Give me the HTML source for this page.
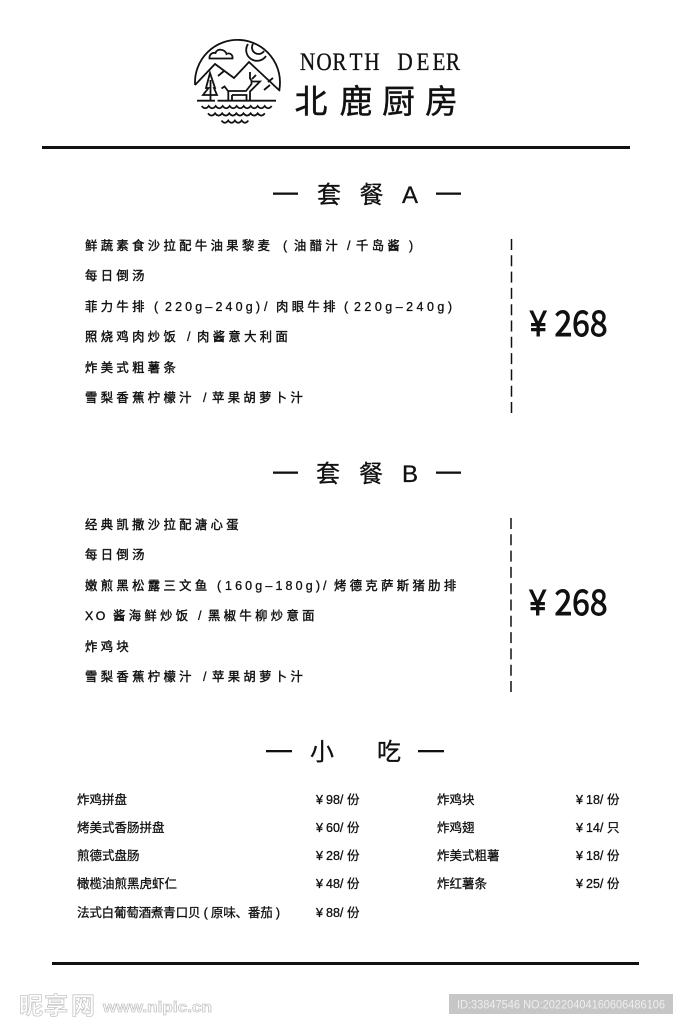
<!DOCTYPE html>
<html><head><meta charset="utf-8"><style>
html,body{margin:0;padding:0;background:#fff}
svg{display:block}
text{font-family:"Liberation Sans","Noto Sans CJK SC",sans-serif;fill:#111}
.m{font-size:12.3px;stroke:#111;stroke-width:.4;letter-spacing:3.4px}
.l{font-size:12.5px;stroke:#111;stroke-width:.3;letter-spacing:0}
.s{font-size:12.5px;stroke:#111;stroke-width:.3}
.t{font-size:24px;stroke:#111;stroke-width:.3}
.p{font-size:35px;font-family:"Noto Sans CJK SC",sans-serif;stroke:#111;stroke-width:.9}
.y{font-size:36px;font-family:"Liberation Sans",sans-serif;stroke:#111;stroke-width:1}
</style></head><body>
<svg width="683" height="1024" viewBox="0 0 683 1024" xmlns="http://www.w3.org/2000/svg">
<rect width="683" height="1024" fill="#fff"/>
<!-- logo -->
<g fill="none" stroke="#111" stroke-width="1.800">
<path d="M195.070 85A42.500 42.500 0 1 1 279.300 90"/>
<path d="M195 85L215 64L234 78L249 62L280 91"/>
<path d="M218 76l6 -5M264 90l6 -5M268 82l5 -4"/>
<path d="M209.500 58.500H232.500C233 54 229 52.500 226.500 54C225 49 217 48 215.500 53C212 52 209 55 209.500 58.500Z"/>
<path d="M248 44A10 10 0 0 0 266 56M253 44A6.500 6.500 0 0 0 264 51"/>
<path d="M210 73L206 88H208.500L203 95H217L214 88H215ZM210.500 80V100"/>
<path d="M221.500 88.500L224.500 86.500L228 91H246L251.500 84V81.500H260L253 88.500L250 91.500V100M228.300 91V100M232 95V100M232 95H246.500V100M250 72V78.500L252 81.500M256 75L252 79"/>
<path d="M197 100.700H215M217.500 100.700H276"/>
<path d="M201.700 106q3.500 4.500 7 0q3.500 4.500 7 0q3.500 4.500 7 0q3.500 4.500 7 0q3.500 4.500 7 0q3.500 4.500 7 0q3.500 4.500 7 0q3.500 4.500 7 0q3.500 4.500 7 0q3.500 4.500 7 0"/>
<path d="M208 113.300q3.550 4.500 7.100 0q3.550 4.500 7.100 0q3.550 4.500 7.100 0q3.550 4.500 7.100 0q3.550 4.500 7.100 0q3.550 4.500 7.100 0q3.550 4.500 7.100 0q3.550 4.500 7.100 0"/>
<path d="M221.500 120.500q3.350 4.500 6.700 0q3.350 4.500 6.700 0q3.350 4.500 6.700 0q3.350 4.500 6.700 0"/>
</g>
<text transform="scale(.85,1)" y="70" font-size="25" text-anchor="middle" x="361.800 381.200 399.400 418.800 437.600 456.500 476.500 497.600 516.500 532.900" style="font-family:'Liberation Serif',serif;stroke:#111;stroke-width:.3">NORTH DEER</text>
<text y="113" font-size="33" style="stroke:#111;stroke-width:.4" x="294.500 339.500 382 425">北鹿厨房</text>
<rect x="42" y="146" width="588" height="3" fill="#111"/>

<!-- A -->
<rect x="273" y="192.500" width="25" height="2.300" fill="#111"/><rect x="436" y="192.500" width="25" height="2.300" fill="#111"/>
<text class="t" y="203" x="317 359.500">套餐</text><text class="t" x="402" y="203">A</text>
<text class="m" x="85" y="250">鲜蔬素食沙拉配牛油果黎麦</text><text class="l" x="283" y="250">(</text><text class="m" x="294" y="250">油醋汁</text><text class="l" x="347" y="250">/</text><text class="m" x="356" y="250">千岛酱</text><text class="l" x="409" y="250">)</text>
<text class="m" x="85" y="280">每日倒汤</text>
<text class="m" x="85" y="311">菲力牛排</text><text class="l" x="154" y="311">(</text><text class="l" x="165" y="311" textLength="95" lengthAdjust="spacing">220g–240g)</text><text class="l" x="264" y="311">/</text><text class="m" x="276" y="311">肉眼牛排</text><text class="l" x="344" y="311">(</text><text class="l" x="354" y="311" textLength="98" lengthAdjust="spacing">220g–240g)</text>
<text class="m" x="85" y="341">照烧鸡肉炒饭</text><text class="l" x="187" y="341">/</text><text class="m" x="197" y="341">肉酱意大利面</text>
<text class="m" x="85" y="372">炸美式粗薯条</text>
<text class="m" x="85" y="402">雪梨香蕉柠檬汁</text><text class="l" x="203" y="402">/</text><text class="m" x="212" y="402">苹果胡萝卜汁</text>
<line x1="511.500" y1="239" x2="511.500" y2="414" stroke="#111" stroke-width="1.500" stroke-dasharray="11 5.300"/>
<text class="y" transform="translate(530,336) scale(.82,1)">¥</text><text class="p" x="554.500" y="336" textLength="53" lengthAdjust="spacingAndGlyphs">268</text>

<!-- B -->
<rect x="273" y="471.500" width="25" height="2.300" fill="#111"/><rect x="436" y="471.500" width="25" height="2.300" fill="#111"/>
<text class="t" y="482" x="316 359">套餐</text><text class="t" x="402" y="482">B</text>
<text class="m" x="85" y="529">经典凯撒沙拉配溏心蛋</text>
<text class="m" x="85" y="559">每日倒汤</text>
<text class="m" x="85" y="590">嫩煎黑松露三文鱼</text><text class="l" x="217" y="590">(</text><text class="l" x="225" y="590" textLength="95" lengthAdjust="spacing">160g–180g)</text><text class="l" x="323" y="590">/</text><text class="m" x="334" y="590">烤德克萨斯猪肋排</text>
<text class="m" x="85" y="620" style="letter-spacing:2.500px">XO</text><text class="m" x="113" y="620">酱海鲜炒饭</text><text class="l" x="198" y="620">/</text><text class="m" x="208" y="620">黑椒牛柳炒意面</text>
<text class="m" x="85" y="651">炸鸡块</text>
<text class="m" x="85" y="681">雪梨香蕉柠檬汁</text><text class="l" x="203" y="681">/</text><text class="m" x="212" y="681">苹果胡萝卜汁</text>
<line x1="511" y1="518" x2="511" y2="694" stroke="#111" stroke-width="1.500" stroke-dasharray="11 5.300"/>
<text class="y" transform="translate(529.500,615) scale(.82,1)">¥</text><text class="p" x="554.500" y="615" textLength="53" lengthAdjust="spacingAndGlyphs">268</text>

<!-- snacks -->
<rect x="266" y="750" width="26" height="2.300" fill="#111"/><rect x="418" y="750" width="26" height="2.300" fill="#111"/>
<text class="t" y="760" x="310 377">小吃</text>
<text class="s" x="77" y="804">炸鸡拼盘</text>
<text class="s" x="77" y="832">烤美式香肠拼盘</text>
<text class="s" x="77" y="860">煎德式盘肠</text>
<text class="s" x="77" y="888">橄榄油煎黑虎虾仁</text>
<text class="s" x="77" y="917" textLength="203" lengthAdjust="spacing">法式白葡萄酒煮青口贝 ( 原味、番茄 )</text>
<text class="s" x="316" y="804">¥<tspan x="326">98/</tspan><tspan x="347">份</tspan></text>
<text class="s" x="316" y="832">¥<tspan x="326">60/</tspan><tspan x="347">份</tspan></text>
<text class="s" x="316" y="860">¥<tspan x="326">28/</tspan><tspan x="347">份</tspan></text>
<text class="s" x="316" y="888">¥<tspan x="326">48/</tspan><tspan x="347">份</tspan></text>
<text class="s" x="316" y="917">¥<tspan x="326">88/</tspan><tspan x="347">份</tspan></text>
<text class="s" x="437" y="804">炸鸡块</text>
<text class="s" x="437" y="832">炸鸡翅</text>
<text class="s" x="437" y="860">炸美式粗薯</text>
<text class="s" x="437" y="888">炸红薯条</text>
<text class="s" x="576" y="804">¥<tspan x="586">18/</tspan><tspan x="607">份</tspan></text>
<text class="s" x="576" y="832">¥<tspan x="586">14/</tspan><tspan x="607">只</tspan></text>
<text class="s" x="576" y="860">¥<tspan x="586">18/</tspan><tspan x="607">份</tspan></text>
<text class="s" x="576" y="888">¥<tspan x="586">25/</tspan><tspan x="607">份</tspan></text>
<rect x="52" y="962" width="587" height="3" fill="#111"/>

<!-- watermark -->
<text y="1014" font-size="24" x="19 44 71" style="fill:#fff;stroke:#c8c8c8;stroke-width:.8;font-weight:bold">昵享网</text>
<text x="103" y="1012" font-size="15" textLength="109" lengthAdjust="spacingAndGlyphs" style="fill:#fff;stroke:#c8c8c8;stroke-width:.8;font-weight:bold">www.nipic.cn</text>
<rect x="449" y="994" width="224" height="20" fill="#c6c6c6"/>
<text x="457" y="1008.500" font-size="12" textLength="208" lengthAdjust="spacingAndGlyphs" style="fill:#eeeeee">ID:33847546 NO:20220404160606486106</text>
</svg>
</body></html>
